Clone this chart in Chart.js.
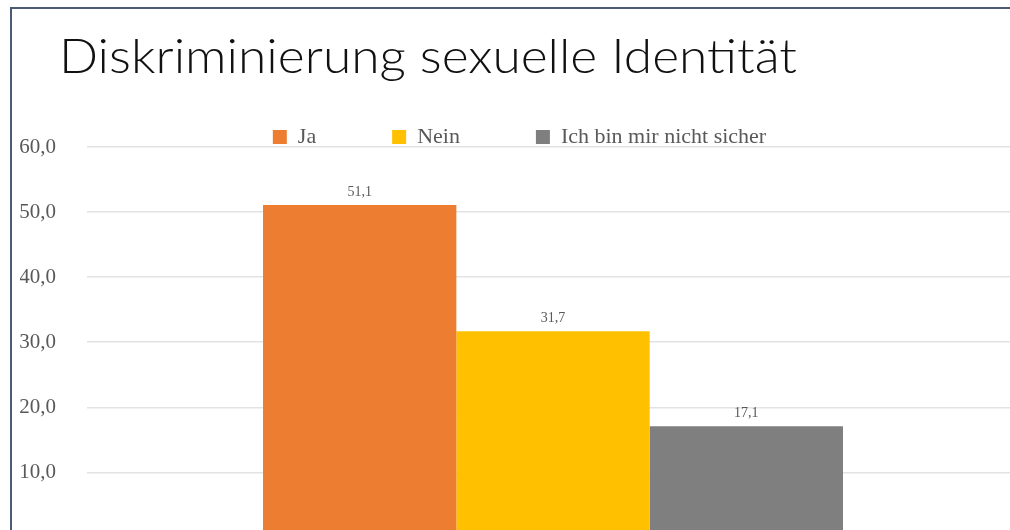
<!DOCTYPE html>
<html>
<head>
<meta charset="utf-8">
<script src="https://cdn.jsdelivr.net/npm/chart.js@4.4.1/dist/chart.umd.min.js"></script>
<style>
  html, body { margin: 0; padding: 0; background: #fff; width: 1010px; height: 530px; overflow: hidden; }
  #rahmen { position: absolute; left: 10px; top: 7px; width: 1010px; height: 530px; border-top: 2px solid #4b5b76; border-left: 2px solid #4b5b76; }
  #titel { position: absolute; left: 59px; top: 31px; font-family: Lato, "Open Sans"; font-weight: 300; font-size: 48px; line-height: 1; color: #111; white-space: nowrap; transform-origin: 0 0; z-index: 2; }
  #diagramm { position: absolute; left: 0; top: 0; width: 1019px; height: 581px; }
</style>
</head>
<body>
<div id="rahmen"></div>
<div id="titel">Diskriminierung sexuelle Identität</div>
<canvas id="diagramm" width="1019" height="581"></canvas>
<script>
// --- Daten ---
const kategorien = [""];
const serien = ["Ja", "Nein", "Ich bin mir nicht sicher"];
const werte = [51.1, 31.7, 17.1];
const farben = ["#ED7D31", "#FFC000", "#7F7F7F"];
const yTicks = [10, 20, 30, 40, 50, 60]; // 0,0 liegt unterhalb des Ausschnitts

const komma = (v) => Number(v).toFixed(1).replace(".", ",");
const serif = "'Liberation Serif', 'DejaVu Serif', serif";

// Titel auf Originalbreite bringen
const titel = document.getElementById("titel");
titel.style.transform = `scaleX(${738 / titel.getBoundingClientRect().width})`;

// Werte über den Balken
const wertLabels = {
  id: "wertLabels",
  afterDatasetsDraw(chart) {
    const ctx = chart.ctx;
    ctx.save();
    ctx.font = `14px ${serif}`;
    ctx.fillStyle = "#595959";
    ctx.textAlign = "center";
    ctx.textBaseline = "alphabetic";
    chart.data.datasets.forEach((ds, i) => {
      chart.getDatasetMeta(i).data.forEach((bar, j) => {
        ctx.fillText(komma(ds.data[j]), bar.x, bar.y - 9);
      });
    });
    ctx.restore();
  },
};

// Legende ragt etwas in die Zeichenfläche hinein
const legendeKuerzen = {
  id: "legendeKuerzen",
  afterInit(chart) {
    const leg = chart.legend;
    const fit = leg.fit.bind(leg);
    leg.fit = () => {
      fit();
      leg.height -= 11;
    };
  },
};

new Chart(document.getElementById("diagramm"), {
  type: "bar",
  data: {
    labels: kategorien,
    datasets: serien.map((name, i) => ({
      label: name,
      data: [werte[i]],
      backgroundColor: farben[i],
      borderWidth: 0,
      categoryPercentage: 0.6223,
      barPercentage: 1,
    })),
  },
  options: {
    responsive: false,
    animation: false,
    layout: { padding: { left: 20, top: 50, right: 0, bottom: 0 } },
    plugins: {
      title: { display: false },
      tooltip: { enabled: false },
      legend: {
        position: "top",
        labels: {
          boxWidth: 14,
          boxHeight: 14,
          padding: 76,
          color: "#595959",
          font: { family: serif, size: 22 },
        },
      },
    },
    scales: {
      x: { display: false },
      y: {
        min: 0,
        max: 60,
        afterFit(s) { s.width = 67; },
        afterBuildTicks(s) { s.ticks = yTicks.map((v) => ({ value: v })); },
        border: { display: false },
        grid: { color: "#e3e3e3", lineWidth: 1.5, drawTicks: false },
        ticks: {
          padding: 31,
          color: "#595959",
          font: { family: serif, size: 21 },
          callback: (v) => komma(v),
        },
      },
    },
  },
  plugins: [wertLabels, legendeKuerzen],
});
</script>
</body>
</html>
